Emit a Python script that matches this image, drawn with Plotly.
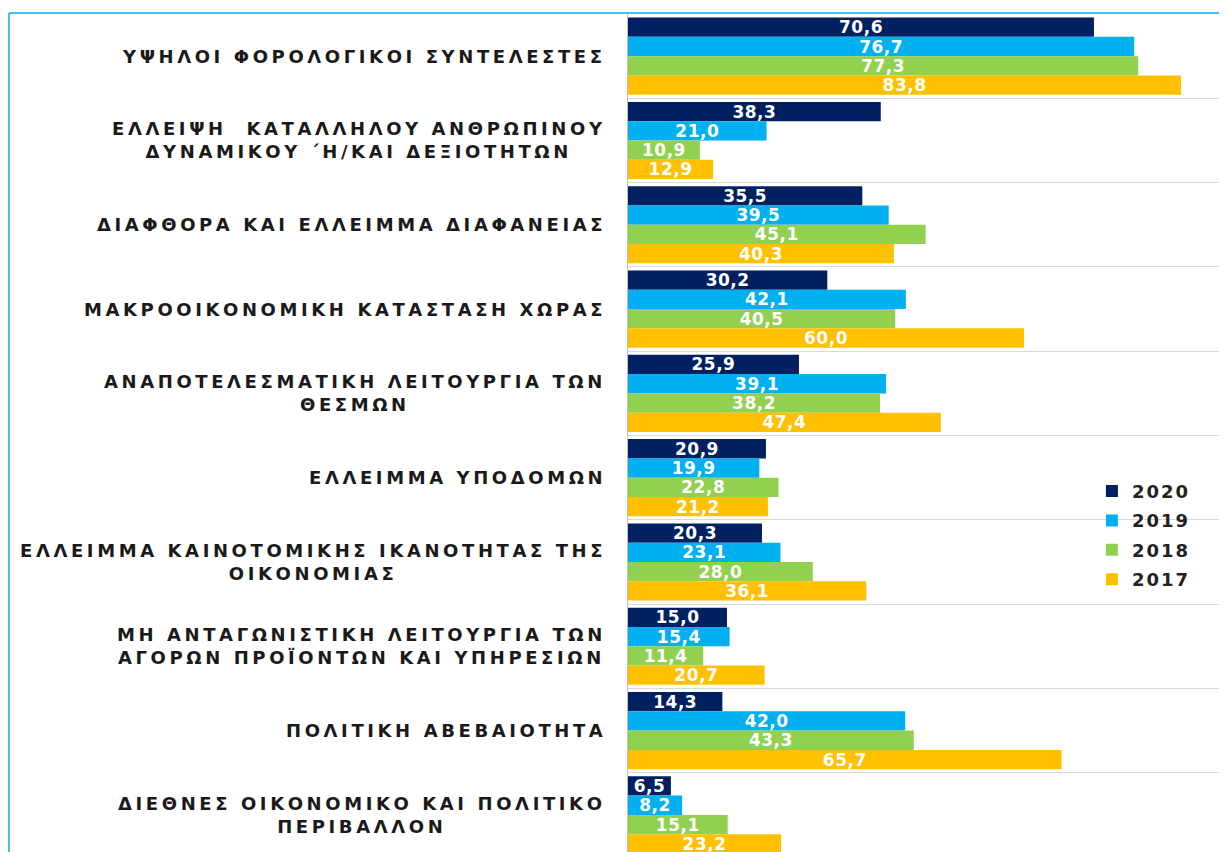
import plotly.graph_objects as go

categories = [
    "ΥΨΗΛΟΙ ΦΟΡΟΛΟΓΙΚΟΙ ΣΥΝΤΕΛΕΣΤΕΣ",
    "ΕΛΛΕΙΨΗ  ΚΑΤΑΛΛΗΛΟΥ ΑΝΘΡΩΠΙΝΟΥ<br>ΔΥΝΑΜΙΚΟΥ ΄Η/ΚΑΙ ΔΕΞΙΟΤΗΤΩΝ",
    "ΔΙΑΦΘΟΡΑ ΚΑΙ ΕΛΛΕΙΜΜΑ ΔΙΑΦΑΝΕΙΑΣ",
    "ΜΑΚΡΟΟΙΚΟΝΟΜΙΚΗ ΚΑΤΑΣΤΑΣΗ ΧΩΡΑΣ",
    "ΑΝΑΠΟΤΕΛΕΣΜΑΤΙΚΗ ΛΕΙΤΟΥΡΓΙΑ ΤΩΝ<br>ΘΕΣΜΩΝ",
    "ΕΛΛΕΙΜΜΑ ΥΠΟΔΟΜΩΝ",
    "ΕΛΛΕΙΜΜΑ ΚΑΙΝΟΤΟΜΙΚΗΣ ΙΚΑΝΟΤΗΤΑΣ ΤΗΣ<br>ΟΙΚΟΝΟΜΙΑΣ",
    "ΜΗ ΑΝΤΑΓΩΝΙΣΤΙΚΗ ΛΕΙΤΟΥΡΓΙΑ ΤΩΝ<br>ΑΓΟΡΩΝ ΠΡΟΪΟΝΤΩΝ ΚΑΙ ΥΠΗΡΕΣΙΩΝ",
    "ΠΟΛΙΤΙΚΗ ΑΒΕΒΑΙΟΤΗΤΑ",
    "ΔΙΕΘΝΕΣ ΟΙΚΟΝΟΜΙΚΟ ΚΑΙ ΠΟΛΙΤΙΚΟ<br>ΠΕΡΙΒΑΛΛΟΝ",
]

years = ["2020", "2019", "2018", "2017"]
values_2020 = [70.6, 38.3, 35.5, 30.2, 25.9, 20.9, 20.3, 15.0, 14.3, 6.5]
values_2019 = [76.7, 21.0, 39.5, 42.1, 39.1, 19.9, 23.1, 15.4, 42.0, 8.2]
values_2018 = [77.3, 10.9, 45.1, 40.5, 38.2, 22.8, 28.0, 11.4, 43.3, 15.1]
values_2017 = [83.8, 12.9, 40.3, 60.0, 47.4, 21.2, 36.1, 20.7, 65.7, 23.2]
series = [values_2020, values_2019, values_2018, values_2017]
colors = ["#002060", "#00B0F0", "#92D050", "#FFC000"]


def spaced(text, px):
    lines = text.split("<br>")
    return "<br>".join(f"<span style='letter-spacing:{px}px'>{ln}</span>" for ln in lines)


# page has an 8px body margin, so the figure is placed at (8, 8)
W, H = 1219, 844
L, R, T, B = 620, 5, 6, 0
plot_w = W - L - R
plot_h = H - T - B

fig = go.Figure()
for name, vals, col in zip(years, series, colors):
    fig.add_trace(go.Bar(
        y=categories, x=vals, name=spaced(name, 2), orientation="h",
        legendgroup=name,
        marker=dict(color=col, line=dict(width=0)),
        text=[spaced(f"{v:.1f}".replace(".", ","), 0.5) for v in vals],
        textposition="inside", insidetextanchor="middle",
        textangle=0, constraintext="none", cliponaxis=False,
        insidetextfont=dict(family="DejaVu Sans", size=17, color="white", weight="bold"),
        hoverinfo="skip",
    ))

for cat in categories:
    fig.add_annotation(
        x=0, xref="paper", y=cat, yref="y", xanchor="right", yanchor="middle",
        xshift=-20, text=spaced(cat, 3.6), showarrow=False, align="center",
        font=dict(family="DejaVu Sans", size=18, color="#1a1a1a", weight="bold"),
    )

fig.add_shape(type="line", xref="paper", yref="paper",
              x0=(1 - L) / plot_w, x1=(W + 5 - L) / plot_w,
              y0=1 + 1.0 / plot_h, y1=1 + 1.0 / plot_h,
              line=dict(color="#45C0E8", width=2))
fig.add_shape(type="line", xref="paper", yref="paper",
              x0=(1 - L) / plot_w, x1=(1 - L) / plot_w,
              y0=-0.05, y1=1 + 1.0 / plot_h,
              line=dict(color="#45C0E8", width=2))

fig.update_layout(
    width=W, height=H,
    margin=dict(l=L, r=R, t=T, b=B, pad=0),
    barmode="group", bargap=0.085, bargroupgap=0,
    plot_bgcolor="white", paper_bgcolor="white",
    showlegend=True,
    legend=dict(
        x=0.781, y=0.4525, xanchor="left", yanchor="top",
        traceorder="grouped", bgcolor="rgba(0,0,0,0)",
        font=dict(family="DejaVu Sans", size=18, color="#222222", weight="bold"),
        itemwidth=30, tracegroupgap=3,
    ),
    xaxis=dict(range=[0, 90], showgrid=False, showticklabels=False, zeroline=False,
               showline=False, ticks=""),
    yaxis=dict(range=[9.44, -0.5], showticklabels=False, tickson="boundaries",
               showgrid=True, gridcolor="#D9D9D9", gridwidth=1, ticks="",
               showline=True, linecolor="#BFBFBF", linewidth=1, zeroline=False),
)

fig.write_html("out.html")
